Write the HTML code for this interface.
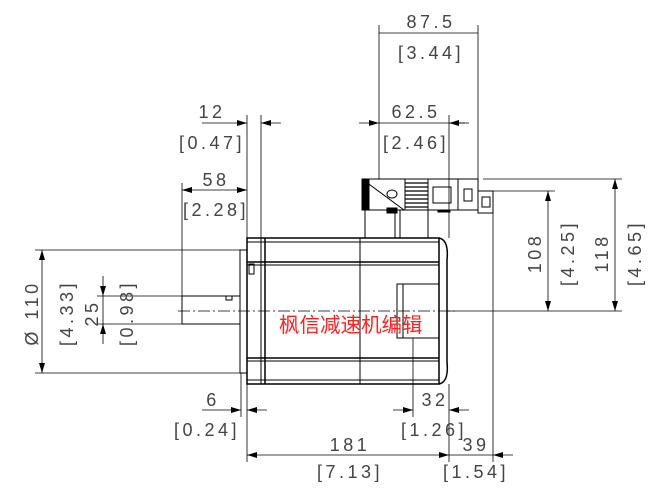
<!DOCTYPE html>
<html><head><style>body{margin:0;background:#fff}svg{display:block}</style></head><body>
<svg width="659" height="499" viewBox="0 0 659 499" xmlns="http://www.w3.org/2000/svg" font-family="Liberation Sans, sans-serif" font-size="18" fill="#222">
<defs>
<marker id="a" viewBox="0 0 10 6" refX="10" refY="3" markerWidth="10" markerHeight="6" orient="auto-start-reverse" markerUnits="userSpaceOnUse"><path d="M0,0 L10,3 L0,6z" fill="#000"/></marker>
</defs>
<g stroke="#000" stroke-width="1" fill="none">
<line x1="178" y1="311" x2="455" y2="311" stroke-dasharray="12,3,2,3" stroke-width="0.8"/>
<rect x="182" y="296" width="58" height="28"/>
<rect x="226" y="296" width="6" height="4"/>
<rect x="240" y="250" width="7" height="123"/>
<rect x="247" y="238" width="192" height="146" stroke-width="1.5"/>
<line x1="247" y1="242" x2="439" y2="242"/>
<line x1="247" y1="262" x2="439" y2="262" stroke-width="1.5"/>
<line x1="247" y1="265" x2="439" y2="265"/>
<line x1="247" y1="358" x2="439" y2="358" stroke-width="1.5"/>
<line x1="247" y1="361" x2="439" y2="361"/>
<line x1="247" y1="380" x2="439" y2="380"/>
<line x1="261" y1="238" x2="261" y2="384"/>
<line x1="265" y1="238" x2="265" y2="384" stroke-width="1.5"/>
<line x1="360" y1="238" x2="360" y2="384"/>
<rect x="249" y="264" width="5" height="10"/>
<path d="M439,238 Q449,240 447,260 L447,362 Q449,382 439,384" stroke-width="1.5"/>
<rect x="397" y="284" width="42" height="54"/>
<line x1="403" y1="284" x2="403" y2="338"/>
<rect x="362" y="179" width="43" height="31"/>
<path d="M362,179 L404,210" />
<rect x="363" y="180" width="6" height="29" fill="#000"/>
<ellipse cx="392" cy="194" rx="5" ry="4"/>
<rect x="405" y="179" width="23" height="31"/>
<g stroke-width="1.3"><line x1="405" y1="183" x2="428" y2="183"/><line x1="405" y1="187" x2="428" y2="187"/><line x1="405" y1="191" x2="428" y2="191"/><line x1="405" y1="195" x2="428" y2="195"/><line x1="405" y1="199" x2="428" y2="199"/><line x1="405" y1="203" x2="428" y2="203"/><line x1="405" y1="207" x2="428" y2="207"/></g>
<rect x="428" y="179" width="30" height="31"/>
<rect x="433" y="187" width="18" height="16"/>
<rect x="458" y="179" width="20" height="31"/>
<rect x="464" y="189" width="8" height="12"/>
<rect x="478" y="191" width="15" height="22"/>
<rect x="482" y="197" width="8" height="10"/>
<rect x="438" y="210" width="12" height="2" fill="#000"/>
<rect x="365" y="210" width="30" height="28"/>
<rect x="400" y="210" width="28" height="28"/>
<rect x="387" y="208" width="10" height="5" fill="#000"/>
</g>
<g stroke="#000" stroke-width="0.8" fill="none">
<line x1="247" y1="115" x2="247" y2="238"/>
<line x1="261" y1="115" x2="261" y2="238"/>
<line x1="182" y1="183" x2="182" y2="296"/>
<line x1="379" y1="25" x2="379" y2="179"/>
<line x1="449" y1="115" x2="449" y2="238"/>
<line x1="478" y1="25" x2="478" y2="179"/>
<line x1="35" y1="250" x2="240" y2="250"/>
<line x1="35" y1="373" x2="240" y2="373"/>
<line x1="97" y1="296" x2="182" y2="296"/>
<line x1="97" y1="324" x2="182" y2="324"/>
<line x1="493" y1="191" x2="555" y2="191"/>
<line x1="483" y1="179" x2="622" y2="179"/>
<line x1="447" y1="311" x2="622" y2="311"/>
<line x1="493" y1="213" x2="493" y2="462"/>
<line x1="241" y1="373" x2="241" y2="417"/>
<line x1="247" y1="384" x2="247" y2="462"/>
<line x1="413" y1="338" x2="413" y2="417"/>
<line x1="449" y1="384" x2="449" y2="462"/>
<line x1="202" y1="123" x2="247" y2="123" marker-end="url(#a)"/>
<line x1="281" y1="123" x2="261" y2="123" marker-end="url(#a)"/>
<line x1="182" y1="190" x2="247" y2="190" marker-start="url(#a)" marker-end="url(#a)"/>
<line x1="359" y1="123" x2="379" y2="123" marker-end="url(#a)"/>
<line x1="379" y1="123" x2="465" y2="123"/>
<line x1="469" y1="123" x2="449" y2="123" marker-end="url(#a)"/>
<line x1="379" y1="33" x2="478" y2="33"/>
<line x1="42" y1="250" x2="42" y2="373" marker-start="url(#a)" marker-end="url(#a)"/>
<line x1="103" y1="276" x2="103" y2="296" marker-end="url(#a)"/>
<line x1="103" y1="296" x2="103" y2="324"/>
<line x1="103" y1="344" x2="103" y2="324" marker-end="url(#a)"/>
<line x1="548" y1="191" x2="548" y2="311" marker-start="url(#a)" marker-end="url(#a)"/>
<line x1="615" y1="179" x2="615" y2="311" marker-start="url(#a)" marker-end="url(#a)"/>
<line x1="202" y1="410" x2="241" y2="410" marker-end="url(#a)"/>
<line x1="267" y1="410" x2="247" y2="410" marker-end="url(#a)"/>
<line x1="393" y1="410" x2="413" y2="410" marker-end="url(#a)"/>
<line x1="469" y1="410" x2="449" y2="410" marker-end="url(#a)"/>
<line x1="247" y1="455" x2="449" y2="455" marker-start="url(#a)" marker-end="url(#a)"/>
<line x1="449" y1="455" x2="493" y2="455"/>
<line x1="513" y1="455" x2="493" y2="455" marker-end="url(#a)"/>
</g>
<g fill="#444" text-anchor="middle" letter-spacing="3.5">
<text x="431" y="28">87.5</text>
<text x="431" y="59">[3.44]</text>
<text x="212" y="118">12</text>
<text x="212" y="149">[0.47]</text>
<text x="216" y="186">58</text>
<text x="216" y="216">[2.28]</text>
<text x="416" y="118">62.5</text>
<text x="416" y="149">[2.46]</text>
<text x="213" y="406">6</text>
<text x="207" y="436">[0.24]</text>
<text x="435" y="406">32</text>
<text x="434" y="436">[1.26]</text>
<text x="350" y="451">181</text>
<text x="350" y="478">[7.13]</text>
<text x="476" y="451">39</text>
<text x="476" y="478">[1.54]</text>
<text transform="translate(38,313) rotate(-90)">Ø 110</text>
<text transform="translate(73,313) rotate(-90)">[4.33]</text>
<text transform="translate(98,313) rotate(-90)">25</text>
<text transform="translate(133,313) rotate(-90)">[0.98]</text>
<text transform="translate(541,253) rotate(-90)">108</text>
<text transform="translate(574,253) rotate(-90)">[4.25]</text>
<text transform="translate(608,253) rotate(-90)">118</text>
<text transform="translate(641,253) rotate(-90)">[4.65]</text>
</g>
<text x="279" y="332" fill="#ff2020" font-size="20.5" font-family="Liberation Sans, Noto Sans CJK SC, sans-serif">枫信减速机编辑</text>
</svg>
</body></html>
